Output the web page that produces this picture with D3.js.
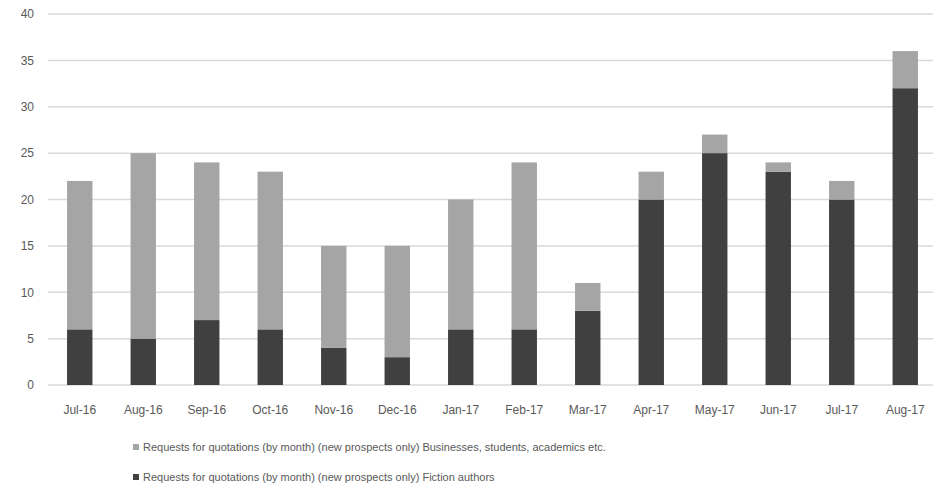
<!DOCTYPE html>
<html lang="en">
<head>
    <meta charset="utf-8">
    <title>Requests for quotations</title>
    <style>
        body { margin: 0; background: white; }
        svg { display: block; }
        .tick text { font-family: "Liberation Sans", sans-serif; font-size: 12px; fill: #595959; }
        .legend-label { font-family: "Liberation Sans", sans-serif; font-size: 11px; fill: #595959; }
    </style>
    <script src="https://d3js.org/d3.v7.min.js"></script>
</head>
<body>
<svg id="chart" width="933" height="488"></svg>
<script>
    const months = ["Jul-16", "Aug-16", "Sep-16", "Oct-16", "Nov-16", "Dec-16", "Jan-17",
        "Feb-17", "Mar-17", "Apr-17", "May-17", "Jun-17", "Jul-17", "Aug-17"];
    const fiction = [6, 5, 7, 6, 4, 3, 6, 6, 8, 20, 25, 23, 20, 32];
    const business = [16, 20, 17, 17, 11, 12, 14, 18, 3, 3, 2, 1, 2, 4];
    const yTicks = [0, 5, 10, 15, 20, 25, 30, 35, 40];
    const seriesNames = [
        "Requests for quotations (by month) (new prospects only) Businesses, students, academics etc.",
        "Requests for quotations (by month) (new prospects only) Fiction authors"
    ];
    const colors = { fiction: "#404040", business: "#a5a5a5" };

    const svg = d3.select("#chart");
    const width = 933, height = 488;

    // band range reaches a bit past the right edge, as in the original
    const x = d3.scaleBand()
        .domain(months)
        .range([48, 937])
        .paddingInner(0.6)
        .paddingOuter(0.3);

    const y = d3.scaleLinear()
        .domain([0, 40])
        .range([385, 14]);

    // gridlines
    svg.append("g")
        .selectAll("line")
        .data(yTicks)
        .join("line")
        .attr("x1", 48)
        .attr("x2", width)
        .attr("y1", d => y(d))
        .attr("y2", d => y(d))
        .attr("stroke", "#d9d9d9")
        .attr("stroke-width", 1.5);

    // y axis labels
    const yAxis = svg.append("g")
        .attr("transform", `translate(34,0)`)
        .call(d3.axisLeft(y).tickValues(yTicks).tickSize(0).tickPadding(0));
    yAxis.select(".domain").remove();

    // stacked bars
    const rows = months.map((m, i) => ({ month: m, fiction: fiction[i], business: business[i] }));
    const stack = d3.stack().keys(["fiction", "business"])(rows);

    svg.append("g")
        .selectAll("g")
        .data(stack)
        .join("g")
        .attr("fill", d => colors[d.key])
        .selectAll("rect")
        .data(d => d)
        .join("rect")
        .attr("x", d => x(d.data.month))
        .attr("width", x.bandwidth())
        .attr("y", d => y(d[1]))
        .attr("height", d => y(d[0]) - y(d[1]));

    // x axis labels
    const xAxis = svg.append("g")
        .attr("transform", `translate(0,${y(0) + 14})`)
        .call(d3.axisBottom(x).tickSize(0).tickPadding(6));
    xAxis.select(".domain").remove();

    // legend
    const legend = svg.append("g")
        .selectAll("g")
        .data([
            { name: seriesNames[0], color: colors.business, y: 447 },
            { name: seriesNames[1], color: colors.fiction, y: 477 }
        ])
        .join("g")
        .attr("transform", d => `translate(133,${d.y})`);

    legend.append("rect")
        .attr("x", 0)
        .attr("y", -3)
        .attr("width", 6)
        .attr("height", 6)
        .attr("fill", d => d.color);

    legend.append("text")
        .attr("class", "legend-label")
        .attr("x", 10)
        .attr("dy", "0.35em")
        .text(d => d.name);
</script>
</body>
</html>
